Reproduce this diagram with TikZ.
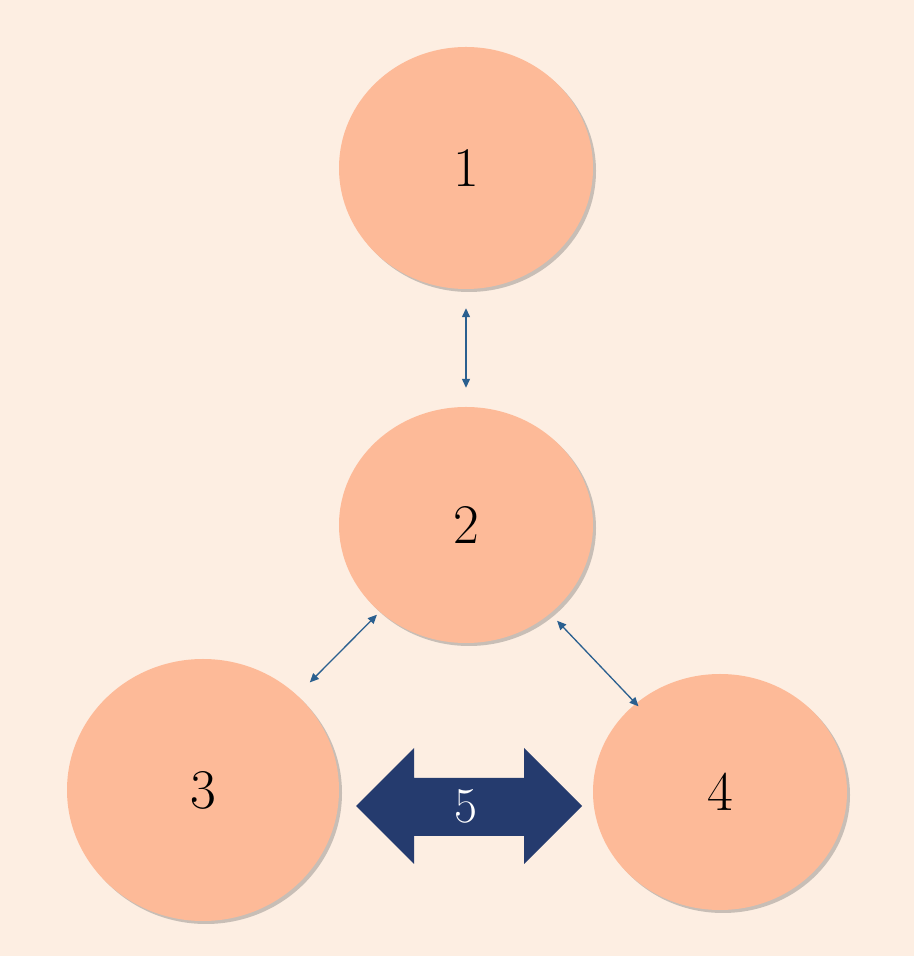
\documentclass[tikz,border=0pt]{standalone}
\usetikzlibrary{shapes.geometric,shadows,arrows.meta}
\definecolor{bg}{HTML}{FDEEE2}
\definecolor{disc}{HTML}{FDBA98}
\definecolor{lnk}{HTML}{2A5F8F}
\definecolor{big}{HTML}{253B6E}
\tikzset{
  disc/.style={ellipse,fill=disc,draw=none,drop shadow={shadow xshift=3pt,shadow yshift=-3pt,opacity=0.35,fill=black!60},font=\fontsize{56}{60}\selectfont,inner sep=0pt},
  lnkarr/.style={draw=lnk,line width=1.3pt,{Triangle[length=9pt,width=8pt]}-{Triangle[length=9pt,width=8pt]}},
}
\begin{document}
\begin{tikzpicture}[x=1pt,y=1pt]
\fill[bg] (0,0) rectangle (914,956);
\useasboundingbox (0,0) rectangle (914,956);
\node[disc,minimum width=254pt,minimum height=242pt] (n1) at (466,788) {1};
\node[disc,minimum width=254pt,minimum height=236pt] (n2) at (466,431) {2};
\node[disc,minimum width=272pt,minimum height=262pt] (n3) at (203,166) {3};
\node[disc,minimum width=254pt,minimum height=236pt] (n4) at (720,164) {4};
\draw[lnkarr,shorten <=19pt,shorten >=19pt] (n1) -- (n2);
\draw[lnkarr,shorten <=4pt,shorten >=18pt] (n2) -- (n3);
\draw[lnkarr,shorten <=10pt,shorten >=-4pt] (n2) -- (n4);
\fill[big] (356,150) -- (414,208) -- (414,178) -- (524,178) -- (524,208) -- (582,150)
  -- (524,92) -- (524,120) -- (414,120) -- (414,92) -- cycle;
\node[text=white,font=\fontsize{50}{54}\selectfont] (n5) at (466,150) {5};
\end{tikzpicture}
\end{document}
